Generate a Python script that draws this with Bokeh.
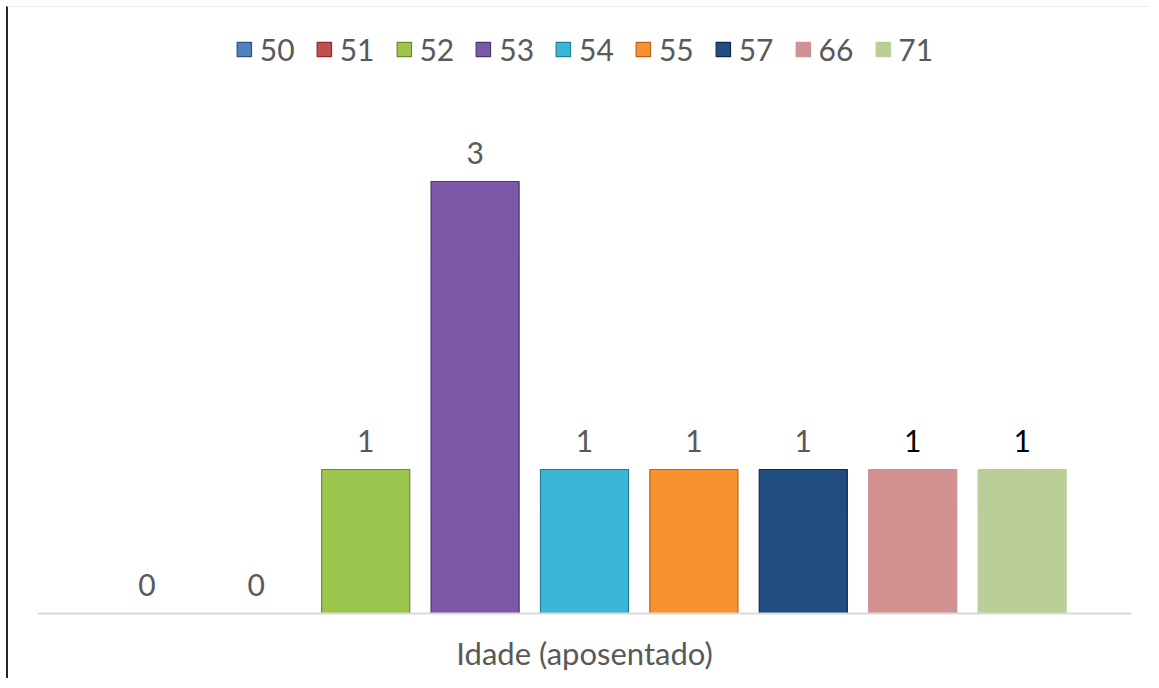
from bokeh.plotting import figure
from bokeh.models import ColumnDataSource, Range1d, LabelSet, FixedTicker
from bokeh.core.properties import value
from bokeh.embed import file_html
from bokeh.resources import INLINE

# ---- data ----
series = ["50", "51", "52", "53", "54", "55", "57", "66", "71"]
counts = [0, 0, 1, 3, 1, 1, 1, 1, 1]
axis_title = "Idade (aposentado)"

# ---- styles ----
fills = ["#4F81BD", "#C0504D", "#9CC54D", "#7B58A8", "#3AB6D6", "#F8922F", "#224D80", "#D19191", "#BBCE98"]
edges = ["#2C5283", "#8C2D2A", "#6E8A2F", "#4E3570", "#237F98", "#B8651A", "#0F2A4C", "#D19191", "#BBCE98"]
label_colors = ["#595959"] * 7 + ["#000000"] * 2

FONT = "Lato"
GRAY = "#595959"

src = ColumnDataSource(dict(
    x=list(range(len(series))),
    name=series,
    count=counts,
    fill=fills,
    edge=edges,
    lab=[str(c) for c in counts],
    lcol=label_colors,
))

p = figure(width=1143, height=672, output_backend="svg", toolbar_location=None,
           x_range=Range1d(-1, len(series)), y_range=Range1d(0, 604 / 144.0),
           min_border_left=29, min_border_right=20, min_border_top=2, min_border_bottom=66)
p.margin = (6, 0, 0, 6)
p.styles = {"border-left": "2px solid #262626", "border-top": "1px solid #EEEEEE"}

r = p.vbar(x="x", top="count", width=0.805, source=src, fill_color="fill",
           line_color="edge", line_width=1.2, legend_field="name")

labels = LabelSet(x="x", y="count", text="lab", source=src, y_offset=29,
                  text_align="center", text_baseline="middle",
                  text_font=value(FONT), text_font_size="30px", text_color="lcol")
p.add_layout(labels)

p.yaxis.visible = False
p.xgrid.visible = False
p.ygrid.visible = False
p.outline_line_color = None

ax = p.xaxis[0]
ax.ticker = FixedTicker(ticks=[])
ax.axis_line_color = "#D9D9D9"
ax.axis_line_width = 2
ax.major_tick_line_color = None
ax.minor_tick_line_color = None
ax.major_label_text_font_size = "0px"
ax.axis_label = axis_title
ax.axis_label_text_font = FONT
ax.axis_label_text_font_size = "31px"
ax.axis_label_text_font_style = "normal"
ax.axis_label_text_color = GRAY
ax.axis_label_standoff = 20

leg = p.legend[0]
leg.location = "top_center"
leg.orientation = "horizontal"
leg.border_line_color = None
leg.background_fill_alpha = 0
leg.glyph_width = 18
leg.glyph_height = 18
leg.label_standoff = 7
leg.spacing = 20
leg.margin = 22
leg.padding = 0
leg.label_text_font = FONT
leg.label_text_font_size = "30px"
leg.label_text_color = GRAY
leg.label_height = 20

open("out.html", "w").write(file_html(p, INLINE))
